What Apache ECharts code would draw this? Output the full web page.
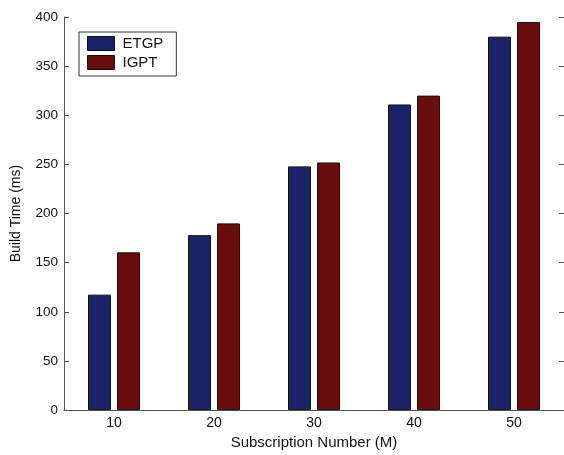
<!DOCTYPE html>
<html>
<head>
<meta charset="utf-8">
<script src="https://cdn.jsdelivr.net/npm/echarts@6/dist/echarts.min.js"></script>
<style>html,body{margin:0;padding:0;background:#fff}#c{width:564px;height:455px}</style>
</head>
<body>
<div id="c"></div>
<script>
const categories = ['10', '20', '30', '40', '50'];
const etgp = [117.5, 178, 248, 311, 380];
const igpt = [160.5, 190, 252, 320, 395];
const yTicks = [0, 50, 100, 150, 200, 250, 300, 350, 400];

const chart = echarts.init(document.getElementById('c'), null, {renderer: 'canvas'});
const font = 'Liberation Sans, Arial, sans-serif';
const axisCol = '#555';
chart.setOption({
  animation: false,
  backgroundColor: '#fff',
  textStyle: {fontFamily: font},
  grid: {left: 64, right: -2, top: 17, bottom: 44, containLabel: false},
  legend: {
    left: 79, top: 32, orient: 'vertical',
    icon: 'rect',
    itemWidth: 27, itemHeight: 14, itemGap: 4,
    padding: [4, 13, 6, 8],
    borderColor: '#333', borderWidth: 1,
    itemStyle: {borderColor: '#111', borderWidth: 1},
    textStyle: {fontFamily: font, fontSize: 15, color: '#111', padding: [0, 0, 0, 3]},
    data: ['ETGP', 'IGPT']
  },
  xAxis: [{
    type: 'category', data: categories, position: 'bottom',
    name: 'Subscription Number (M)', nameLocation: 'middle', nameGap: 24,
    nameTextStyle: {fontFamily: font, fontSize: 15, color: '#111'},
    axisLine: {lineStyle: {color: axisCol, width: 1}},
    axisTick: {inside: true, length: 5, alignWithLabel: true, lineStyle: {color: axisCol}},
    axisLabel: {fontFamily: font, fontSize: 14, color: '#111', margin: 6},
    splitLine: {show: false}
  }, {
    type: 'category', data: categories, position: 'top',
    axisLine: {lineStyle: {color: axisCol, width: 1}},
    axisTick: {inside: true, length: 5, alignWithLabel: true, lineStyle: {color: axisCol}},
    axisLabel: {show: false}, splitLine: {show: false}
  }],
  yAxis: [{
    type: 'value', min: 0, max: 400, interval: 50, position: 'left',
    name: 'Build Time (ms)', nameLocation: 'middle', nameGap: 41,
    nameTextStyle: {fontFamily: font, fontSize: 14, color: '#111'},
    axisLine: {show: true, lineStyle: {color: axisCol, width: 1}},
    axisTick: {show: true, inside: true, length: 5, lineStyle: {color: axisCol}},
    axisLabel: {fontFamily: font, fontSize: 13.5, color: '#111', margin: 6,
      formatter: v => yTicks.includes(v) ? String(v) : ''},
    splitLine: {show: false}
  }, {
    type: 'value', min: 0, max: 400, interval: 50, position: 'right',
    axisLine: {show: true, lineStyle: {color: axisCol, width: 1}},
    axisTick: {show: true, inside: true, length: 5, lineStyle: {color: axisCol}},
    axisLabel: {show: false}, splitLine: {show: false}
  }],
  series: [{
    name: 'ETGP', type: 'bar', data: etgp, barWidth: '23%', barGap: '26%',
    itemStyle: {color: '#1a2368', borderColor: '#111', borderWidth: 1}
  }, {
    name: 'IGPT', type: 'bar', data: igpt, barWidth: '23%', barGap: '26%',
    itemStyle: {color: '#6a0d0f', borderColor: '#111', borderWidth: 1}
  }]
});
</script>
</body>
</html>
